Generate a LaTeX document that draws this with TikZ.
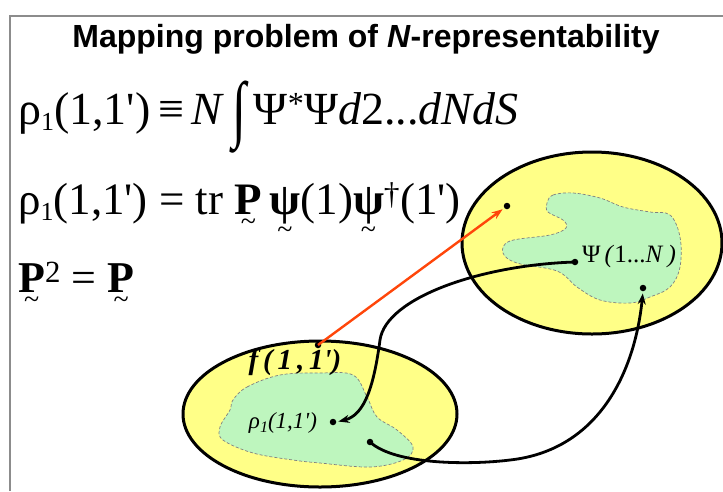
\documentclass[tikz,border=0pt]{standalone}
\usepackage{fontspec}
\setmainfont{Liberation Serif}
\newfontfamily\titlefont{Liberation Sans}
\usetikzlibrary{arrows.meta}
\definecolor{ylw}{RGB}{255,255,135}
\definecolor{grn}{RGB}{190,246,190}
\definecolor{redl}{RGB}{255,70,10}
\definecolor{framec}{RGB}{140,140,140}
\newcommand\utl[2][-16pt]{\ooalign{#2\cr\hidewidth\raisebox{#1}{\fontsize{28}{28}\selectfont\textasciitilde}\hidewidth\cr}}
\newcommand\prm{\textquotesingle}
\newcommand\sbs[1]{\raisebox{-6pt}{\fontsize{26}{26}\selectfont #1}}
\begin{document}
\begin{tikzpicture}[x=1pt,y=-1pt,
  ell/.style={draw=black, line width=3pt, fill=ylw},
  blob/.style={draw=gray, line width=0.7pt, densely dashed, fill=grn},
  dotn/.style={circle, fill=black, inner sep=0pt, minimum size=6.5pt},
  conn/.style={line width=2.8pt, -{Stealth[length=11pt,width=8pt]}},
  redconn/.style={draw=redl, line width=2.4pt, -{Stealth[length=11pt,width=8pt]}},
  lbl/.style={inner sep=0pt}]
\useasboundingbox (0,0) rectangle (723,491);
\fill[white] (0,0) rectangle (723,491);
% frame
\draw[framec, line width=2pt] (10,491) -- (10,16) -- (723,16);
% title
\node[lbl, anchor=base] (title) at (366,47) {\titlefont\bfseries\fontsize{32}{36}\selectfont Mapping problem of \textit{N}-representability};
% formulas
\node[lbl, anchor=base west] (eq1) at (18,124) {\fontsize{46}{50}\selectfont ρ\sbs{1}(1,1\prm)\,≡\,\textit{N}\,\raisebox{-9pt}{\scalebox{1.1}[1.6]{∫}}\,Ψ\textsuperscript{*}Ψ\textit{d}2...\textit{dNdS}};
\node[lbl, anchor=base west] (eq2) at (18,214) {\fontsize{45}{50}\selectfont ρ\sbs{1}(1,1\prm) = tr \utl{\textbf{P}}\,\utl[-24pt]{\textbf{ψ}}(1)\utl[-24pt]{\textbf{ψ}}\textsuperscript{†}(1\prm)};
\node[lbl, anchor=base west] (eq3) at (18,292) {\fontsize{44}{50}\selectfont \utl{\textbf{P}}\textsuperscript{2} = \utl{\textbf{P}}};
% ellipses
\draw[ell] (592,243) ellipse [x radius=130pt, y radius=91pt];
\draw[ell] (320,414) ellipse [x radius=137pt, y radius=73pt];
% blobs
\draw[blob] plot[smooth cycle, tension=0.6] coordinates {(547,203) (553,195) (573,193) (600,198) (623,207) (650,212) (670,215) (680,237) (680,267) (670,287) (650,297) (630,303) (600,300) (577,287) (557,271) (517,263) (503,253) (510,241) (550,235) (566,228) (563,220) (548,212)};
\draw[blob] plot[smooth cycle, tension=0.6] coordinates {(233,400) (247,387) (280,375) (320,373) (353,375) (367,397) (377,417) (397,430) (413,447) (403,460) (370,467) (320,463) (293,460) (253,453) (223,440) (220,427) (230,410)};
% texts in blobs
\node[lbl] (ftext) at (295,362) {\fontsize{29}{30}\selectfont\bfseries\itshape f\,(\,1\,,\,1\prm)};
\node[lbl] (rhotext) at (283,423) {\fontsize{23}{24}\selectfont\itshape ρ\raisebox{-4pt}{\fontsize{16}{16}\selectfont 1}(1,1\prm)};
\node[lbl] (psitext) at (629,256) {\fontsize{25}{26}\selectfont Ψ\,\textit{(}1...\textit{N}\,\textit{)}};
% dots
\node[dotn] (fdot) at (318,345) {};
\node[dotn] (tdot) at (507,206) {};
\node[dotn] (psidot) at (575,262) {};
\node[dotn] (rhodot) at (333,422) {};
\node[dotn] (lodot) at (370,442) {};
\node[dotn] (rdot) at (643,288) {};
% connectors
\draw[redconn, shorten >=2pt] (fdot.center) -- (tdot);
\draw[conn, shorten >=2pt] (psidot.center) .. controls (480,265) and (386,298) .. (380,340) .. controls (374,385) and (365,415) .. (rhodot.east);
\draw[conn, shorten >=2pt] (lodot.center) .. controls (395,465) and (470,465) .. (510,460) .. controls (600,450) and (635,370) .. (rdot.south);
\end{tikzpicture}
\end{document}
